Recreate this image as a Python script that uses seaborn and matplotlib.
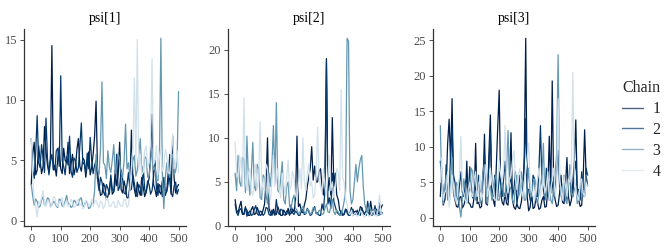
import pandas as pd
import seaborn as sns
import matplotlib.pyplot as plt
from matplotlib.lines import Line2D
from matplotlib.ticker import MultipleLocator

# trace values, one value every 5 iterations
iterations = list(range(0, 501, 5))
chains = ["1", "2", "3", "4"]
params = ["psi[1]", "psi[2]", "psi[3]"]
chain_colors = ["#011f4b", "#03396c", "#6497b1", "#d1e1ec"]

psi1_chain1 = [3.0, 5.5, 6.5, 3.8, 4.2, 6.2, 5.0, 3.9, 4.5, 7.8, 5.8, 4.6, 4.0, 5.3, 14.5, 4.2, 4.6, 3.7,
               5.2, 6.1, 4.3, 3.9, 6.0, 5.0, 4.8, 6.5, 3.9, 4.7, 5.5, 3.8, 4.4, 5.9, 6.8, 4.5, 4.1, 5.2,
               5.0, 3.6, 4.6, 5.7, 3.8, 4.4, 5.5, 7.0, 9.9, 4.0, 3.0, 2.1, 2.2, 3.1, 2.8, 1.8, 2.0, 2.6,
               3.5, 2.2, 2.4, 4.2, 2.9, 3.8, 6.5, 2.6, 2.3, 3.3, 2.7, 1.9, 1.9, 3.0, 7.5, 3.4, 2.6, 2.0,
               3.2, 2.5, 2.1, 3.6, 2.8, 2.0, 2.4, 3.0, 3.5, 5.5, 8.8, 3.0, 2.6, 2.0, 3.1, 2.4, 2.2, 3.3,
               2.9, 2.1, 2.5, 4.0, 3.4, 2.2, 7.0, 3.5, 2.3, 2.8, 3.0]
psi1_chain2 = [6.8, 4.2, 3.5, 5.6, 8.7, 4.8, 4.4, 6.3, 5.2, 4.0, 8.5, 5.1, 3.8, 4.9, 5.5, 4.3, 4.2, 5.8,
               6.0, 4.5, 12.0, 5.0, 4.5, 3.8, 5.3, 4.6, 7.0, 4.1, 3.6, 5.2, 5.0, 4.0, 4.4, 6.2, 8.1, 4.7,
               4.8, 3.9, 5.6, 4.3, 6.9, 5.0, 3.9, 4.6, 5.0, 3.4, 2.5, 3.6, 3.2, 2.4, 2.1, 3.0, 2.7, 2.2,
               3.8, 2.6, 2.4, 3.1, 5.5, 2.5, 2.8, 4.2, 3.5, 2.3, 2.2, 3.0, 4.0, 2.5, 2.6, 3.8, 3.1, 2.2,
               2.0, 3.0, 2.7, 2.1, 4.5, 2.6, 2.3, 3.3, 3.0, 2.2, 2.5, 3.6, 5.0, 2.7, 2.1, 3.0, 2.8, 2.0,
               3.6, 2.5, 2.4, 3.1, 5.5, 2.3, 2.0, 2.9, 3.2, 2.2, 2.6]
psi1_chain3 = [3.0, 2.0, 1.3, 1.8, 1.6, 1.1, 1.2, 1.7, 2.0, 1.3, 1.4, 1.9, 1.8, 1.2, 1.3, 1.6, 1.5, 1.2,
               1.1, 1.8, 1.7, 1.2, 1.3, 1.6, 2.1, 1.4, 1.4, 1.1, 1.2, 1.7, 1.6, 1.3, 1.3, 1.8, 1.9, 1.2,
               1.2, 1.6, 1.5, 1.0, 1.1, 1.5, 1.4, 2.5, 5.5, 4.2, 3.8, 6.0, 11.5, 4.8, 4.6, 3.5, 5.8, 4.5,
               4.0, 5.0, 6.3, 3.9, 4.4, 5.6, 5.1, 4.0, 3.6, 4.9, 8.0, 4.3, 4.8, 3.5, 3.9, 5.0, 5.4, 3.7,
               4.2, 5.5, 6.8, 4.1, 4.0, 5.3, 5.2, 3.6, 3.7, 4.8, 6.0, 4.2, 4.5, 3.4, 3.3, 5.0, 15.1, 3.8,
               1.0, 3.5, 4.8, 4.0, 3.6, 5.1, 5.5, 3.8, 4.1, 5.0, 10.7]
psi1_chain4 = [6.8, 3.5, 1.8, 1.2, 0.3, 1.6, 1.4, 1.9, 2.5, 1.4, 1.2, 1.7, 1.6, 1.1, 1.3, 2.0, 1.9, 1.3,
               1.2, 1.6, 1.5, 1.9, 1.1, 1.4, 1.7, 1.2, 1.3, 1.8, 1.5, 1.1, 1.2, 1.6, 1.8, 1.3, 1.4, 1.0,
               1.1, 1.7, 1.6, 1.2, 1.3, 1.8, 1.2, 1.5, 1.7, 1.3, 1.1, 1.6, 1.5, 1.0, 1.3, 1.9, 1.8, 1.2,
               1.2, 1.5, 1.6, 1.1, 1.1, 1.7, 1.4, 1.2, 1.2, 1.8, 1.7, 1.1, 1.3, 2.5, 4.5, 6.0, 11.8, 5.0,
               15.0, 4.2, 5.5, 3.8, 4.0, 5.8, 6.2, 4.4, 4.8, 6.5, 13.4, 4.6, 5.0, 6.2, 3.8, 5.3, 6.0, 4.1,
               4.5, 5.9, 5.4, 4.0, 3.9, 5.6, 7.2, 4.3, 4.6, 5.8, 4.0]

psi2_chain1 = [3.0, 1.8, 1.5, 2.2, 2.8, 1.4, 1.3, 2.0, 1.8, 1.2, 1.2, 1.9, 2.2, 1.3, 1.4, 2.1, 1.6, 1.2,
               1.3, 1.8, 2.5, 5.0, 10.0, 2.0, 1.5, 1.2, 1.9, 1.4, 1.3, 2.2, 1.7, 1.2, 1.2, 1.8, 1.5, 1.3,
               2.0, 1.4, 1.4, 1.9, 1.6, 3.0, 10.2, 2.2, 2.5, 1.6, 1.5, 2.4, 3.0, 4.5, 5.5, 6.5, 9.0, 5.2,
               6.8, 5.0, 5.0, 6.2, 6.5, 4.5, 3.5, 6.0, 19.0, 4.0, 5.5, 3.5, 12.3, 4.5, 6.0, 3.5, 3.0, 1.8,
               1.6, 1.2, 1.3, 1.9, 1.8, 1.3, 1.5, 2.1, 1.2, 1.6, 1.7, 1.3, 1.4, 2.2, 2.0, 1.4, 1.3, 1.8,
               1.6, 1.2, 2.8, 1.7, 1.4, 1.3, 1.9, 1.5, 1.3, 2.0, 2.4]
psi2_chain2 = [2.5, 1.5, 1.2, 1.8, 2.0, 1.3, 1.4, 2.2, 1.1, 1.5, 1.7, 1.2, 1.3, 1.9, 2.3, 1.4, 1.2, 1.7,
               1.6, 1.2, 1.4, 2.1, 2.0, 1.3, 1.2, 1.8, 1.5, 1.2, 3.0, 1.6, 1.3, 1.9, 1.8, 1.3, 1.2, 1.7,
               1.6, 1.2, 2.4, 1.5, 1.3, 1.7, 1.5, 1.2, 1.2, 1.8, 1.9, 1.3, 1.4, 2.0, 1.6, 1.2, 1.3, 1.8,
               2.2, 1.4, 1.5, 1.2, 1.2, 2.5, 1.8, 4.0, 18.6, 2.5, 3.2, 2.0, 6.0, 2.8, 2.2, 1.6, 1.4, 1.2,
               1.7, 1.4, 1.3, 1.9, 1.5, 1.2, 1.2, 1.6, 1.9, 1.3, 1.4, 1.8, 1.3, 1.2, 2.1, 1.6, 1.5, 1.2,
               2.8, 1.7, 1.3, 1.2, 1.6, 2.3, 1.2, 1.5, 2.7, 1.3, 1.5]
psi2_chain3 = [6.0, 4.0, 8.0, 5.0, 4.5, 7.8, 7.5, 3.8, 10.2, 5.5, 3.5, 6.0, 9.5, 4.5, 4.0, 7.0, 6.5, 3.2,
               3.0, 5.8, 5.5, 3.5, 2.5, 6.0, 4.5, 7.0, 11.4, 5.0, 14.0, 4.0, 3.8, 5.5, 7.3, 3.0, 2.5, 4.5,
               5.0, 2.2, 2.0, 3.0, 3.5, 2.0, 1.8, 1.4, 1.5, 2.0, 2.2, 1.5, 1.4, 1.9, 1.8, 1.3, 1.5, 2.1,
               2.0, 1.4, 1.3, 1.8, 1.7, 1.3, 1.4, 2.0, 2.5, 1.6, 1.5, 2.2, 3.0, 1.6, 1.3, 1.8, 1.6, 1.2,
               1.2, 1.9, 2.8, 4.0, 21.3, 21.0, 4.0, 2.5, 3.0, 5.0, 7.0, 5.0, 6.5, 7.5, 8.0, 4.5, 2.5, 1.8,
               1.5, 2.3, 1.8, 1.3, 1.3, 1.9, 1.6, 1.2, 1.2, 1.6, 1.4]
psi2_chain4 = [9.5, 6.0, 5.5, 8.0, 7.0, 4.5, 14.5, 5.0, 4.0, 6.0, 6.5, 3.8, 3.5, 5.5, 7.0, 4.2, 5.0, 11.8,
               5.5, 4.0, 4.5, 7.0, 6.5, 3.8, 3.0, 5.0, 8.0, 4.5, 5.0, 6.5, 4.0, 3.2, 6.0, 4.8, 3.5, 5.5,
               7.5, 4.0, 4.5, 6.2, 5.5, 3.5, 3.0, 4.8, 6.5, 4.2, 10.0, 5.0, 4.0, 6.0, 7.0, 4.5, 5.0, 3.2,
               3.5, 6.0, 11.2, 5.5, 4.5, 3.8, 6.5, 4.5, 3.5, 5.8, 8.0, 4.0, 5.0, 3.2, 4.0, 6.5, 6.0, 4.0,
               15.5, 5.5, 5.0, 3.0, 2.5, 1.5, 1.3, 1.8, 1.1, 1.4, 1.5, 1.1, 1.2, 1.7, 1.6, 1.2, 1.0, 1.5,
               1.4, 1.1, 1.2, 1.6, 1.7, 1.2, 1.1, 1.8, 3.5, 1.4, 1.3]

psi3_chain1 = [3.0, 7.0, 1.8, 2.5, 4.5, 10.5, 13.9, 8.0, 16.8, 3.5, 2.5, 1.6, 1.5, 2.8, 3.0, 1.4, 1.8, 2.6,
               8.0, 2.2, 2.0, 1.5, 1.5, 3.0, 10.5, 2.0, 2.2, 1.4, 1.6, 4.5, 11.8, 2.0, 1.8, 9.0, 14.5, 3.0,
               2.5, 1.6, 7.0, 12.8, 18.0, 3.5, 2.2, 1.8, 3.5, 2.0, 1.8, 5.0, 12.0, 2.5, 1.5, 1.2, 2.0, 1.4,
               1.3, 2.2, 4.0, 8.5, 25.3, 3.0, 1.0, 1.5, 3.5, 1.3, 1.5, 2.8, 2.2, 1.2, 1.4, 2.5, 3.0, 1.5,
               1.6, 4.0, 11.5, 3.5, 19.3, 4.0, 2.5, 1.6, 1.8, 3.5, 6.0, 2.2, 2.0, 4.5, 8.5, 3.0, 1.7, 2.5,
               5.0, 8.0, 13.8, 3.5, 2.5, 1.6, 1.8, 5.5, 12.4, 6.0, 4.5]
psi3_chain2 = [8.0, 5.5, 4.0, 2.5, 7.5, 4.0, 3.5, 9.0, 12.5, 6.0, 5.0, 3.0, 2.5, 4.5, 6.5, 3.5, 3.0, 5.0,
               5.5, 2.8, 7.2, 4.0, 2.8, 5.5, 4.0, 2.5, 6.0, 4.0, 3.5, 6.0, 9.0, 3.5, 4.5, 7.0, 12.0, 4.5,
               3.0, 6.0, 5.0, 3.0, 6.5, 4.5, 3.0, 5.5, 8.0, 4.0, 2.5, 5.0, 5.5, 3.0, 4.0, 6.5, 2.0, 3.5,
               6.0, 4.5, 3.5, 7.5, 14.0, 4.0, 4.0, 2.5, 2.5, 6.0, 5.5, 3.0, 3.0, 7.0, 13.0, 5.0, 4.0, 2.5,
               7.0, 4.0, 2.5, 5.5, 5.0, 3.0, 3.5, 6.5, 9.5, 4.5, 4.0, 2.5, 6.0, 4.5, 2.5, 5.0, 5.5, 3.0,
               3.0, 6.5, 8.0, 4.0, 4.0, 2.5, 6.5, 4.5, 3.0, 7.0, 6.0]
psi3_chain3 = [13.0, 5.0, 2.0, 4.0, 6.0, 2.5, 3.0, 5.5, 8.5, 3.5, 2.5, 5.0, 4.5, 1.5, 0.1, 3.0, 5.5, 4.0,
               2.0, 3.5, 4.0, 7.0, 6.5, 3.0, 2.5, 4.5, 5.0, 2.0, 3.0, 6.5, 7.5, 3.5, 2.0, 4.0, 4.5, 2.5,
               3.5, 5.5, 6.0, 2.5, 2.5, 4.0, 5.5, 3.0, 3.0, 7.0, 12.3, 4.5, 4.0, 2.5, 2.0, 4.5, 6.0, 3.0,
               3.5, 6.5, 5.0, 2.5, 2.5, 4.5, 7.0, 3.5, 3.0, 5.0, 5.5, 2.5, 2.0, 3.5, 4.5, 6.0, 10.5, 3.0,
               3.0, 5.5, 5.0, 2.5, 2.0, 4.0, 6.5, 9.0, 23.0, 6.0, 3.0, 4.5, 5.0, 2.5, 2.0, 5.0, 7.5, 3.5,
               3.0, 4.0, 4.5, 2.0, 2.5, 4.5, 5.0, 3.0, 3.5, 6.0, 6.0]
psi3_chain4 = [5.0, 8.5, 2.5, 3.5, 4.0, 6.5, 1.5, 3.0, 6.0, 4.5, 3.0, 2.0, 4.5, 6.0, 11.5, 4.0, 3.5, 2.5,
               2.0, 4.0, 5.0, 3.5, 3.0, 5.5, 6.5, 3.0, 4.0, 6.0, 2.5, 3.5, 5.5, 7.5, 3.0, 4.5, 7.0, 5.0,
               4.0, 2.5, 2.5, 5.0, 8.0, 6.0, 5.0, 7.0, 13.0, 5.0, 3.5, 5.5, 6.0, 8.0, 9.5, 5.5, 4.0, 6.0,
               7.0, 4.0, 3.0, 5.0, 6.5, 8.5, 10.5, 5.0, 4.0, 3.0, 2.5, 4.5, 5.5, 7.0, 3.0, 4.0, 6.0, 3.5,
               4.5, 6.5, 2.5, 4.0, 5.5, 7.0, 3.0, 5.0, 16.8, 5.5, 4.0, 2.5, 6.0, 4.5, 3.0, 5.5, 5.0, 7.0,
               20.5, 6.0, 4.0, 3.0, 2.5, 5.0, 5.5, 3.5, 3.0, 5.0, 4.5]

series = {
    "psi[1]": [psi1_chain1, psi1_chain2, psi1_chain3, psi1_chain4],
    "psi[2]": [psi2_chain1, psi2_chain2, psi2_chain3, psi2_chain4],
    "psi[3]": [psi3_chain1, psi3_chain2, psi3_chain3, psi3_chain4],
}

rows = []
for p in params:
    for c, vals in zip(chains, series[p]):
        for it, v in zip(iterations, vals):
            rows.append((p, c, it, v))
df = pd.DataFrame(rows, columns=["param", "chain", "iteration", "value"])

sns.set_theme(style="ticks")
plt.rcParams["font.family"] = ["Liberation Serif", "DejaVu Serif"]

fig = plt.figure(figsize=(6.64, 2.49), dpi=100)
lefts = [0.036, 0.343, 0.652]
palette = dict(zip(chains, chain_colors))

for p, left in zip(params, lefts):
    ax = fig.add_axes([left, 0.092, 0.244, 0.79])
    sub = df[df["param"] == p]
    sns.lineplot(data=sub, x="iteration", y="value", hue="chain", palette=palette,
                 estimator=None, lw=0.9, legend=False, ax=ax)
    ax.set_title(p, fontsize=10, color="black", pad=5)
    ax.set_xlabel("")
    ax.set_ylabel("")
    ax.set_xticks([0, 100, 200, 300, 400, 500])
    ax.yaxis.set_major_locator(MultipleLocator(5))
    ax.margins(x=0.05, y=0.05)
    ax.tick_params(labelsize=9, labelcolor="#4d4d4d", color="#333333", length=3, width=0.6, pad=2)
    sns.despine(ax=ax)
    for s in ["left", "bottom"]:
        ax.spines[s].set_color("#333333")
        ax.spines[s].set_linewidth(0.9)

handles = [Line2D([], [], color=c, lw=1.0, alpha=0.7) for c in chain_colors]
fig.legend(handles, chains, title="Chain", loc="upper left", bbox_to_anchor=(0.915, 0.735),
           frameon=False, fontsize=11.5, title_fontsize=11.5, handlelength=1.3,
           labelspacing=0.3, handletextpad=0.6)

fig.savefig("out.png", dpi=100)
